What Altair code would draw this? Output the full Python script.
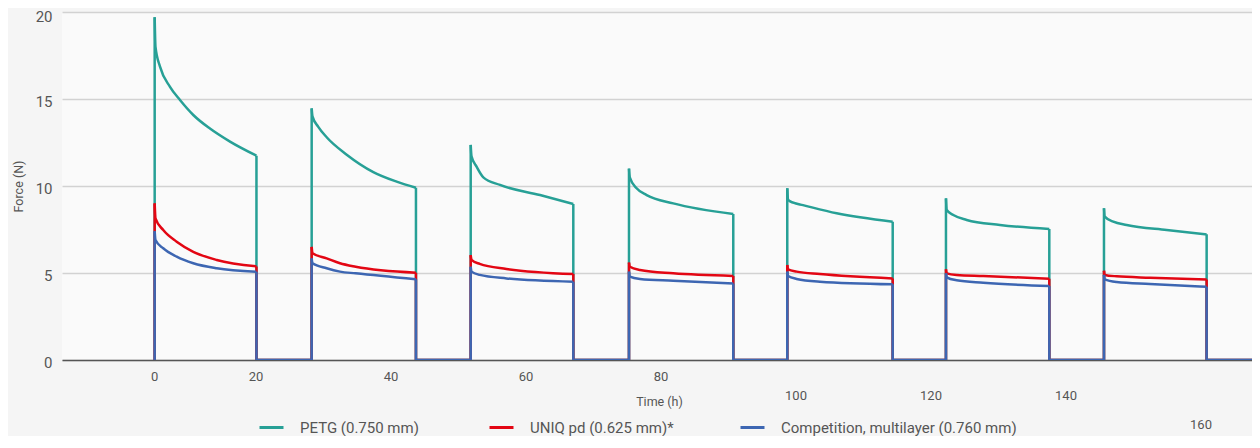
import altair as alt
import pandas as pd

# ---------------- data ----------------
series_names = ["PETG (0.750 mm)", "UNIQ pd (0.625 mm)*", "Competition, multilayer (0.760 mm)"]
series_colors = ["#27a096", "#e30613", "#3d66b2"]

# loading cycles (hours)
cycle_start = [4.99, 28.25, 51.81, 75.26, 98.71, 122.22, 145.63]
cycle_end = [20.07, 43.70, 67.01, 90.71, 114.33, 137.53, 160.84]
t_first = -8.74
t_last = 167.56

# PETG: peak at load start, decay curve (hours after start, N), value at unload
petg_peak = [19.7, 14.46, 12.36, 11.0, 9.87, 9.29, 8.72]
petg_curve = [
    [(0.12, 18.0), (0.79, 16.86), (2.27, 15.7), (3.75, 14.94), (5.72, 14.08), (8.19, 13.3), (11.16, 12.55)],
    [(0.12, 14.0), (0.98, 13.4), (2.22, 12.8), (5.19, 11.8), (9.13, 10.8), (12.59, 10.25)],
    [(0.12, 11.7), (0.89, 11.1), (1.87, 10.5), (4.34, 10.06), (10.27, 9.48)],
    [(0.12, 10.5), (1.13, 9.87), (2.62, 9.48), (6.56, 9.0)],
    [(0.12, 9.2), (0.89, 9.04), (2.33, 8.9), (7.32, 8.43)],
    [(0.12, 8.62), (1.09, 8.33), (3.07, 8.05), (8.0, 7.76)],
    [(0.12, 8.24), (1.38, 7.95), (3.36, 7.76), (9.29, 7.47)],
]
petg_end = [11.74, 9.9, 8.97, 8.39, 7.95, 7.53, 7.22]

# UNIQ pd
uniq_peak = [9.0, 6.5, 6.03, 5.6, 5.46, 5.21, 5.13]
uniq_curve = [
    [(0.12, 8.14), (1.27, 7.47), (3.26, 6.8), (5.72, 6.22), (9.19, 5.75)],
    [(0.12, 6.13), (2.22, 5.84), (4.19, 5.56), (6.52, 5.36)],
    [(0.12, 5.75), (1.33, 5.52), (5.3, 5.23)],
    [(0.12, 5.36), (1.63, 5.17), (6.56, 4.98)],
    [(0.12, 5.21), (1.39, 5.08), (4.84, 4.94)],
    [(0.12, 4.98), (1.58, 4.89), (5.53, 4.83)],
    [(0.12, 4.89), (1.88, 4.81), (6.81, 4.73)],
]
uniq_end = [5.38, 5.02, 4.94, 4.83, 4.69, 4.67, 4.63]

# Competition, multilayer
comp_peak = [7.4, 5.84, 5.36, 5.08, 5.08, 4.98, 4.89]
comp_curve = [
    [(0.12, 6.9), (1.27, 6.42), (3.26, 5.94), (5.72, 5.56), (9.19, 5.27)],
    [(0.12, 5.56), (2.22, 5.27), (4.19, 5.08), (6.52, 4.98)],
    [(0.12, 5.08), (1.33, 4.89), (5.3, 4.69)],
    [(0.12, 4.79), (1.63, 4.66), (6.56, 4.56)],
    [(0.12, 4.83), (1.39, 4.66), (4.84, 4.5)],
    [(0.12, 4.75), (1.58, 4.58), (5.53, 4.44)],
    [(0.12, 4.63), (1.88, 4.48), (6.81, 4.37)],
]
comp_end = [5.07, 4.64, 4.5, 4.4, 4.35, 4.25, 4.21]

# x-axis tick labels, as placed in the reference (three staggered rows)
tick_values = [4.99, 20, 40, 60, 80, 100, 120, 140, 160]
tick_labels = ["0", "20", "40", "60", "80", "100", "120", "140", "160"]
tick_row = [0, 0, 0, 0, 0, 1, 1, 1, 2]

# ---------------- build tables ----------------
def build(name, peaks, curves, ends):
    curve_rows, frame_rows = [], []
    i = 0
    n = len(cycle_start)
    for k in range(n):
        s, e = cycle_start[k], cycle_end[k]
        # smooth decay
        pts = [(s, peaks[k])] + [(s + dt, v) for dt, v in curves[k]] + [(e, ends[k])]
        for t, v in pts:
            curve_rows.append({"series": name, "seg": k, "t": t, "force": v, "i": i})
            i += 1
        # loading step (straight)
        for t, v in [(s, 0.0), (s, peaks[k])]:
            frame_rows.append({"series": name, "seg": f"up{k}", "t": t, "force": v, "i": i})
            i += 1
        # unloading step + rest period at zero
        nxt = cycle_start[k + 1] if k + 1 < n else t_last
        for t, v in [(e, ends[k]), (e, 0.0), (nxt, 0.0)]:
            frame_rows.append({"series": name, "seg": f"dn{k}", "t": t, "force": v, "i": i})
            i += 1
    return curve_rows, frame_rows

curves_all, frames_all = [], []
for nm, pk, cv, en in [
    (series_names[0], petg_peak, petg_curve, petg_end),
    (series_names[1], uniq_peak, uniq_curve, uniq_end),
    (series_names[2], comp_peak, comp_curve, comp_end),
]:
    c, f = build(nm, pk, cv, en)
    curves_all += c
    frames_all += f
curve_df = pd.DataFrame(curves_all)
frame_df = pd.DataFrame(frames_all)
ticks = pd.DataFrame({"t": tick_values, "label": tick_labels, "row": tick_row})

FONT = "Roboto"
TXT = "#555555"

xscale = alt.Scale(domain=[t_first, t_last], nice=False, zero=False)
yscale = alt.Scale(domain=[0, 20], nice=False)

x_axis = alt.Axis(
    title="Time (h)", labels=False, ticks=False, grid=False,
    domainColor="#555555", domainWidth=1.5,
    titleFont=FONT, titleFontSize=12.5, titleFontWeight="normal", titleColor=TXT,
    titleX=597, titleY=41, titleAlign="center", titleBaseline="middle",
)
y_axis = alt.Axis(
    title="Force (N)", values=[0, 5, 10, 15, 20], ticks=False, domain=False,
    gridColor="#d2d2d2", gridWidth=1.3,
    labelFont=FONT, labelFontSize=15, labelColor=TXT, labelPadding=10,
    labelOffset={"condition": {"test": "datum.value >= 20", "value": 4}, "value": 2},
    titleFont=FONT, titleFontSize=12.5, titleFontWeight="normal", titleColor=TXT,
    titleX=-44, titleY=174, titleAlign="center", titleBaseline="middle", titleAngle=-90,
)

legend_x = [196, 426, 677]

def series_layers(j):
    name, col = series_names[j], series_colors[j]
    leg = alt.Legend(
        title=None, orient="none", direction="horizontal",
        legendX=legend_x[j], legendY=402, padding=0,
        symbolType="stroke", symbolSize=576, symbolStrokeWidth=3,
        labelFont=FONT, labelFontSize=15, labelColor=TXT, labelLimit=400,
        labelOffset=15,
    )
    enc = dict(
        x=alt.X("t:Q", scale=xscale, axis=x_axis),
        y=alt.Y("force:Q", scale=yscale, axis=y_axis),
        detail="seg:N",
        order="i:Q",
    )
    curve = alt.Chart(curve_df).transform_filter(alt.datum.series == name).mark_line(
        strokeWidth=2.5, clip=True, interpolate="monotone"
    ).encode(
        color=alt.Color("series:N", scale=alt.Scale(domain=[name], range=[col]), legend=leg),
        **enc,
    )
    frame = alt.Chart(frame_df).transform_filter(alt.datum.series == name).mark_line(
        strokeWidth=2.5, clip=True
    ).encode(
        color=alt.Color("series:N", scale=alt.Scale(domain=[name], range=[col]), legend=None),
        **enc,
    )
    return [frame, curve]

row_y = [365, 384, 413]

def tick_layer(r):
    return alt.Chart(ticks).transform_filter(alt.datum.row == r).mark_text(
        font=FONT, fontSize=13, color=TXT, align="center", baseline="middle"
    ).encode(
        x=alt.X("t:Q", scale=xscale, axis=x_axis),
        y=alt.value(row_y[r]),
        text="label:N",
    )

layers = []
for j in range(3):
    layers += series_layers(j)
layers += [tick_layer(0), tick_layer(1), tick_layer(2)]

chart = alt.layer(*layers).resolve_scale(color="independent").properties(
    width=1190, height=348,
    autosize=alt.AutoSizeParams(type="none"),
    padding={"left": 54, "top": 4, "right": 0, "bottom": 76},
    background="#f5f5f5",
).configure_view(fill="#fafafa", stroke=None)

chart.save("out.html", embed_options={"renderer": "svg", "actions": False})
